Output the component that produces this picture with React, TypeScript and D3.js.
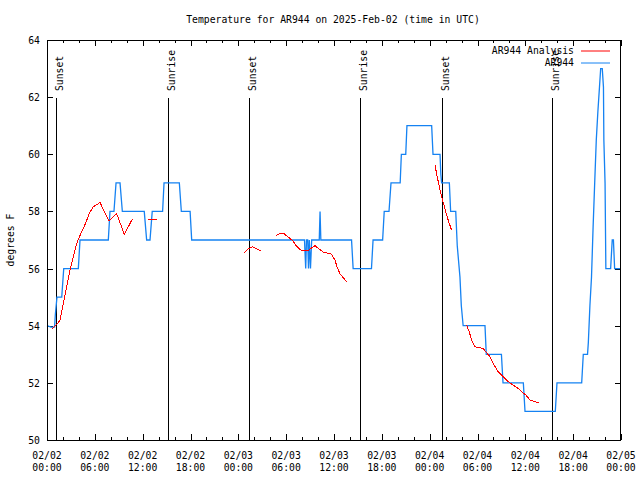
import React from "react"
import * as d3 from "d3"

// hours after 2025-02-02 00:00 UTC
const blueHours = [0, 0.5, 0.95, 1.05, 1.25, 1.85, 2.1, 3.93, 4.14, 7.69, 7.9, 8.4, 8.66, 9.16, 9.45, 12.2, 12.5, 12.92, 13.2, 14.5, 14.68, 16.6, 16.85, 17.95, 18.15, 32.3, 32.45, 32.55, 32.7, 32.8, 32.9, 33.05, 33.2, 34.15, 34.25, 34.35, 38.2, 38.4, 40.7, 40.9, 42.1, 42.3, 42.9, 43.15, 44.3, 44.45, 45.0, 45.15, 48.25, 48.42, 49.3, 49.4, 49.5, 50.47, 50.63, 51.27, 51.46, 51.8, 51.97, 52.2, 54.94, 55.1, 57.0, 57.2, 59.75, 59.96, 63.76, 63.97, 67.07, 67.27, 67.8, 67.9, 68.1, 68.3, 68.5, 68.7, 68.9, 69.1, 69.3, 69.45, 69.65, 69.8, 69.85, 70.0, 70.1, 70.7, 70.9, 71.05, 71.2, 72]
const blueTemps = [54, 53.95, 53.95, 54.4, 55, 55, 56, 56, 57, 57, 58, 58, 59, 59, 58, 58, 57, 57, 58, 58, 59, 59, 58, 58, 57, 57, 56, 57, 57, 56, 57, 56, 57, 57, 58, 57, 57, 56, 56, 57, 57, 58, 58, 59, 59, 60, 60, 61, 61, 60, 60, 59.3, 59, 59, 58, 58, 56.8, 55.7, 54.7, 54, 54, 53, 53, 52, 52, 51, 51, 52, 52, 53, 53, 53.4, 54.7, 55.7, 57.45, 59, 60.5, 61.5, 62.35, 63, 63, 62.35, 60.5, 59, 56, 56, 57, 57, 56, 56]

// analysis runs (separate pieces)
const redRuns: [number, number][][] = [
  [[0.59, 53.87], [1.13, 54.02], [1.63, 54.19], [2.05, 54.78], [2.47, 55.36], [2.89, 55.94], [3.3, 56.41], [3.72, 56.87], [4.14, 57.16], [4.56, 57.4], [4.98, 57.69], [5.39, 57.98], [5.81, 58.16], [6.65, 58.31], [7.78, 57.67], [8.74, 57.92], [9.7, 57.2], [10.74, 57.75]],
  [[12.71, 57.71], [13.76, 57.73]],
  [[24.71, 56.55], [25.26, 56.7], [25.8, 56.76], [26.8, 56.62]],
  [[28.73, 57.16], [29.23, 57.22], [29.73, 57.22], [30.27, 57.1], [30.82, 56.97], [31.32, 56.78], [31.95, 56.62], [32.78, 56.64], [33.4, 56.76], [33.62, 56.8], [34.04, 56.7], [34.66, 56.58], [35.71, 56.5], [36.13, 56.29], [36.42, 56.03], [36.75, 55.82], [37.17, 55.68], [37.67, 55.51]],
  [[48.67, 59.61], [48.96, 59.2], [49.3, 58.74], [49.8, 58.21], [50.14, 57.86], [50.47, 57.57], [50.76, 57.34]],
  [[52.64, 54.02], [52.97, 53.78], [53.27, 53.49], [53.69, 53.26], [54.73, 53.2], [55.15, 53.05], [55.57, 52.91], [55.98, 52.68], [56.61, 52.38], [57.24, 52.21], [57.87, 52.04], [58.49, 51.92], [59.12, 51.8], [59.54, 51.69], [60.08, 51.57], [60.59, 51.4], [61.21, 51.34], [61.75, 51.31]],
]

const sunHours = [1.15, 15.2, 25.4, 39.2, 49.5, 63.3]
const sunLabels = ["Sunset", "Sunrise", "Sunset", "Sunrise", "Sunset", "Sunrise"]

const yTicks = [50, 52, 54, 56, 58, 60, 62, 64]
const seriesNames = ["AR944 Analysis", "AR944"]

const title = "Temperature for AR944 on 2025-Feb-02 (time in UTC)"
const yLabel = "degrees F"

const BLUE = "#1582f2"
const RED = "#ff0000"
const FONT = "'DejaVu Sans Mono', monospace"

const T0 = Date.UTC(2025, 1, 2)
const toDate = (h: number) => new Date(T0 + h * 3600e3)

export default function App() {
  const margin = { left: 47, right: 19, top: 40, bottom: 40 }
  const W = 640
  const H = 480

  const x = d3
    .scaleUtc()
    .domain([toDate(0), toDate(72)])
    .range([margin.left, W - margin.right])
  const y = d3
    .scaleLinear()
    .domain([50, 64])
    .range([H - margin.bottom, margin.top])

  const majorTicks = d3.utcHour.every(6)!.range(toDate(0), toDate(72.01))
  const minorTicks = d3.utcHour.every(2)!.range(toDate(0), toDate(72.01))
  const fmtDay = d3.utcFormat("%m/%d")
  const fmtTime = d3.utcFormat("%H:%M")

  const line = d3
    .line<[number, number]>()
    .x((d) => x(toDate(d[0])))
    .y((d) => y(d[1]))

  const bluePts: [number, number][] = blueHours.map((h, i) => [h, blueTemps[i]])

  const x0 = margin.left
  const x1 = W - margin.right
  const y0 = H - margin.bottom
  const y1 = margin.top

  return (
    <div style={{ position: "absolute", left: 0, top: 0 }}>
      <svg width={W} height={H} style={{ display: "block", background: "#fff" }} fontFamily={FONT} fontSize={9.75}>
        <rect x={0} y={0} width={W} height={H} fill="#fff" />

        {/* ticks */}
        {minorTicks.map((t, i) => {
          const major = majorTicks.some((m) => +m === +t)
          const len = major ? 6 : 3
          const xx = Math.round(x(t)) + 0.5
          return (
            <g key={"xt" + i} stroke="#000" strokeWidth={1}>
              <line x1={xx} x2={xx} y1={y0} y2={y0 - len} />
              <line x1={xx} x2={xx} y1={y1} y2={y1 + len} />
            </g>
          )
        })}
        {yTicks.map((v) => {
          const yy = Math.round(y(v)) + 0.5
          return (
            <g key={"yt" + v}>
              <line x1={x0} x2={x0 + 6} y1={yy} y2={yy} stroke="#000" />
              <line x1={x1 - 6} x2={x1} y1={yy} y2={yy} stroke="#000" />
              <text x={40} y={yy + 3.5} textAnchor="end" fill="#000">
                {v}
              </text>
            </g>
          )
        })}
        {majorTicks.map((t, i) => (
          <text key={"xl" + i} x={x(t)} textAnchor="middle" fill="#000">
            <tspan x={x(t)} y={459}>
              {fmtDay(t)}
            </tspan>
            <tspan x={x(t)} y={471}>
              {fmtTime(t)}
            </tspan>
          </text>
        ))}

        {/* sunrise / sunset markers */}
        {sunHours.map((h, i) => {
          const xx = Math.round(x(toDate(h))) + 0.5
          return (
            <g key={"sun" + i}>
              <line x1={xx} x2={xx} y1={98} y2={y0} stroke="#000" strokeWidth={1} />
              <text transform={`translate(${xx + 6},91) rotate(-90)`} textAnchor="start" fill="#000">
                {sunLabels[i]}
              </text>
            </g>
          )
        })}

        {/* series */}
        <path d={line(bluePts) ?? ""} fill="none" stroke={BLUE} strokeWidth={1.3} />
        {redRuns.map((run, i) => (
          <path key={"r" + i} d={line(run) ?? ""} fill="none" stroke={RED} strokeWidth={1} shapeRendering="crispEdges" />
        ))}

        {/* frame */}
        <rect x={x0 + 0.5} y={y1 + 0.5} width={x1 - x0 - 1} height={y0 - y1} fill="none" stroke="#000" />

        {/* legend */}
        {seriesNames.map((name, i) => (
          <g key={"lg" + i}>
            <text x={574} y={54 + i * 12} textAnchor="end" fill="#000">
              {name}
            </text>
            <line x1={581} x2={610} y1={51 + i * 12} y2={51 + i * 12} stroke={i === 0 ? RED : BLUE} strokeWidth={1} />
          </g>
        ))}

        <text x={W / 2 + 13} y={23} textAnchor="middle" fill="#000">
          {title}
        </text>
        <text transform={`translate(14,${(y0 + y1) / 2}) rotate(-90)`} textAnchor="middle" fill="#000">
          {yLabel}
        </text>
      </svg>
    </div>
  )
}
